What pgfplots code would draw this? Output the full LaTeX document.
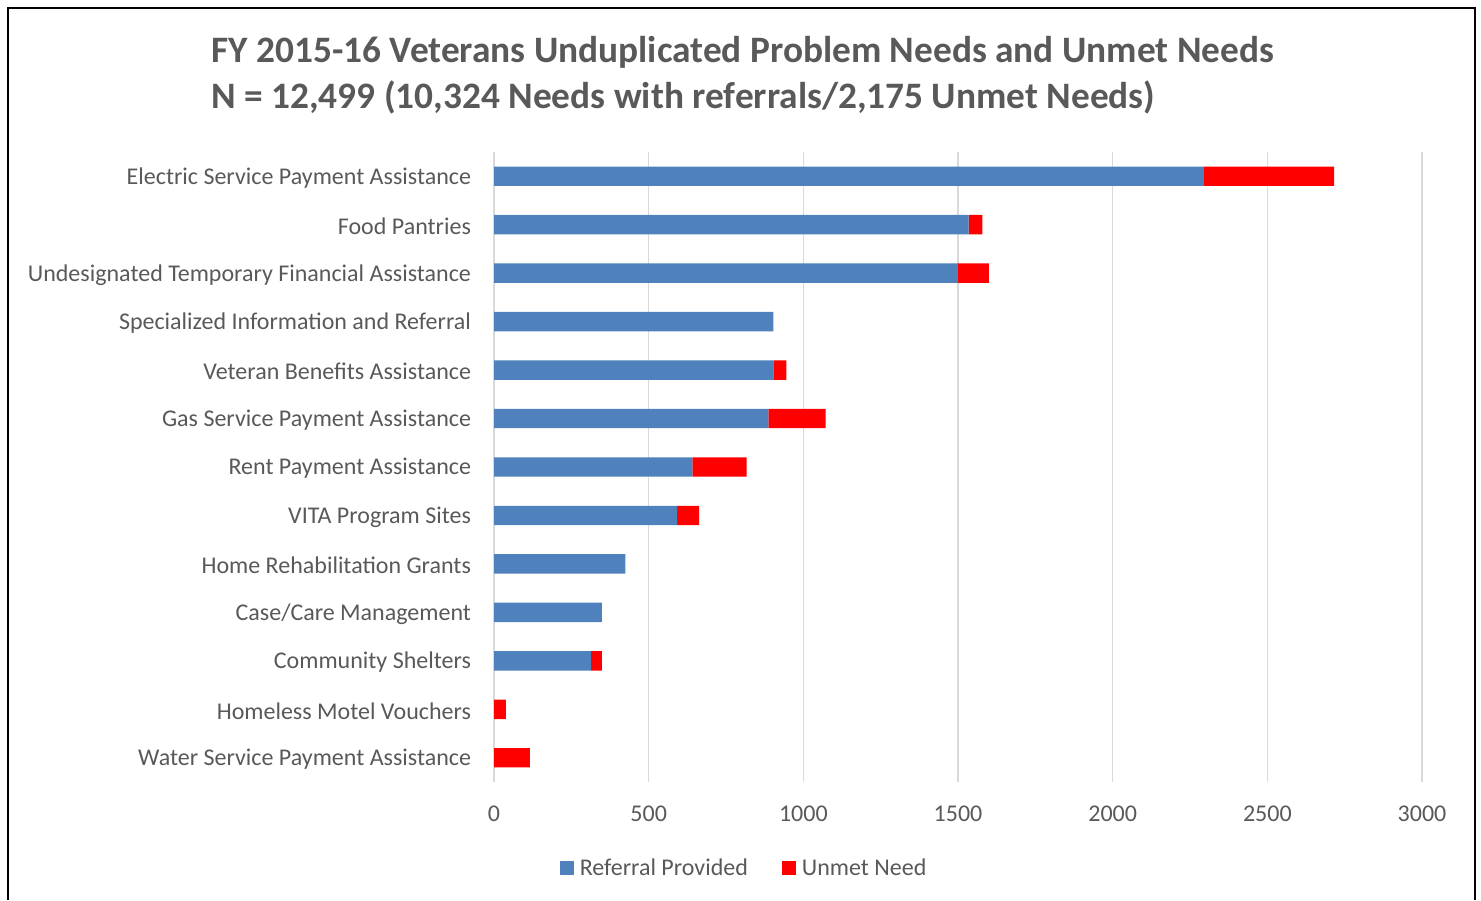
\documentclass[border=0pt]{standalone}
\usepackage{pgfplots}
\pgfplotsset{compat=1.18}
\usepackage{fontspec}
\setmainfont{Carlito}
\definecolor{txtgray}{HTML}{595959}
\definecolor{barblue}{HTML}{4F81BD}
\definecolor{barred}{HTML}{FF0000}
\definecolor{gridgray}{HTML}{D9D9D9}
\begin{document}
\begin{tikzpicture}
\useasboundingbox (0,0) rectangle (740.5pt,450pt);
\draw[black, line width=1pt] (4pt,0) -- (4pt,446pt) -- (737.5pt,446pt) -- (737.5pt,0);
\node[anchor=base west, font=\fontsize{18.67}{22}\selectfont\bfseries, text=txtgray, inner sep=0] at (105.5pt,418.5pt) {FY 2015-16 Veterans Unduplicated Problem Needs and Unmet Needs};
\node[anchor=base west, font=\fontsize{18.67}{22}\selectfont\bfseries, text=txtgray, inner sep=0] at (105.5pt,395.5pt) {N = 12,499 (10,324 Needs with referrals/2,175 Unmet Needs)};
\begin{axis}[
  at={(247pt,59pt)}, anchor=south west,
  scale only axis, width=464pt, height=315pt,
  xbar stacked, bar width=9.7pt,
  xmin=0, xmax=3000, ymin=-0.5, ymax=12.5,
  y dir=reverse,
  xtick={0,500,...,3000},
  ytick={0,...,12},
  yticklabels={Electric Service Payment Assistance, Food Pantries, Undesignated Temporary Financial Assistance, Specialized Information and Referral, Veteran Benefits Assistance, Gas Service Payment Assistance, Rent Payment Assistance, VITA Program Sites, Home Rehabilitation Grants, Case/Care Management, Community Shelters, Homeless Motel Vouchers, Water Service Payment Assistance},
  /pgf/number format/assume math mode=true,
  /pgf/number format/1000 sep={},
  xmajorgrids, grid style={gridgray, line width=0.8pt},
  axis line style={draw=none},
  tick style={draw=none},
  ticklabel style={font=\fontsize{12}{14}\selectfont, text=txtgray},
  xticklabel style={yshift=-8.5pt},
  yticklabel style={xshift=-8pt, yshift=-0.8pt},
  legend columns=2,
  legend style={at={(0.2716,-0.137)}, anchor=center, draw=none, fill=none,
    font=\fontsize{12}{14}\selectfont, text=txtgray,
    nodes={inner xsep=3pt},
    /tikz/every even column/.append style={column sep=14pt}},
  legend image code/.code={\fill[#1] (0pt,-3.5pt) rectangle (7pt,3.5pt);},
]
\addplot[fill=barblue, draw=none] coordinates {
(2295,0) (1534,1) (1498,2) (903,3) (903,4) (887,5) (641,6) (592,7) (425,8) (349,9) (313,10) (0,11) (0,12)};
\addplot[fill=barred, draw=none] coordinates {
(421,0) (45,1) (102,2) (0,3) (42,4) (185,5) (176,6) (71,7) (0,8) (0,9) (36,10) (38,11) (116,12)};
\legend{Referral Provided, Unmet Need}
\end{axis}
\end{tikzpicture}
\end{document}
